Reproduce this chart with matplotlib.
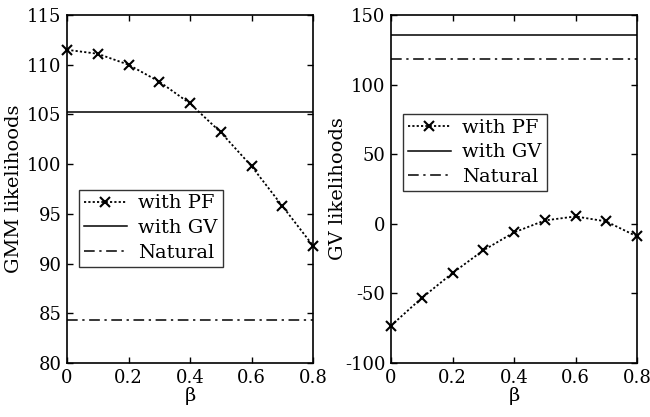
import numpy as np
import matplotlib.pyplot as plt

plt.rcParams['font.family'] = ['DejaVu Serif']
plt.rcParams['axes.unicode_minus'] = False

beta = [0, 0.1, 0.2, 0.3, 0.4, 0.5, 0.6, 0.7, 0.8]

gmm_pf = [111.5, 111.1, 110.0, 108.3, 106.1, 103.2, 99.8, 95.8, 91.8]
gmm_gv = 105.2
gmm_nat = 84.3

gv_pf = [-73.2, -53.3, -35.4, -19.1, -6.2, 2.4, 5.3, 1.7, -9.1]
gv_gv = 135.6
gv_nat = 118.4

fig = plt.figure(figsize=(6.5, 4.17), dpi=100)
ax1 = fig.add_axes([67/650, 1 - 363/417, 246/650, 348/417])
ax2 = fig.add_axes([391/650, 1 - 363/417, 246/650, 348/417])


def draw(ax, pf, gv, nat, ylim, yticks, ylabel, leg_anchor):
    ax.plot(beta, pf, 'k', linestyle=(0, (1.2, 1.2)), marker='x',
            markersize=6.5, markeredgewidth=1.5, linewidth=1.3,
            label='with PF', clip_on=False, zorder=3)
    ax.axhline(gv, color='k', linestyle='-', linewidth=1.1, label='with GV')
    ax.axhline(nat, color='k', linestyle=(0, (7, 3, 1.5, 3)), linewidth=1.1,
               label='Natural')
    ax.set_xlim(0, 0.8)
    ax.set_ylim(*ylim)
    ax.set_xticks(beta[::2])
    ax.set_xticklabels(['0', '0.2', '0.4', '0.6', '0.8'])
    ax.set_yticks(yticks)
    ax.set_xlabel('β', fontsize=14, labelpad=0)
    ax.set_ylabel(ylabel, fontsize=14)
    ax.yaxis.set_label_coords(-0.18, 0.5)
    ax.tick_params(direction='in', top=True, right=True, labelsize=13,
                   length=4, width=1, pad=4)
    for s in ax.spines.values():
        s.set_linewidth(1.2)
    leg = ax.legend(loc='lower left', bbox_to_anchor=leg_anchor, fontsize=14,
                    frameon=True, fancybox=False, edgecolor='k',
                    handlelength=2.2, handletextpad=0.6, borderpad=0.25,
                    labelspacing=0.35, borderaxespad=0)
    leg.get_frame().set_linewidth(1.0)


draw(ax1, gmm_pf, gmm_gv, gmm_nat, (80, 115), np.arange(80, 116, 5),
     'GMM likelihoods', (0.049, 0.276))
draw(ax2, gv_pf, gv_gv, gv_nat, (-100, 150), np.arange(-100, 151, 50),
     'GV likelihoods', (0.049, 0.494))

fig.savefig('out.png', dpi=100)
